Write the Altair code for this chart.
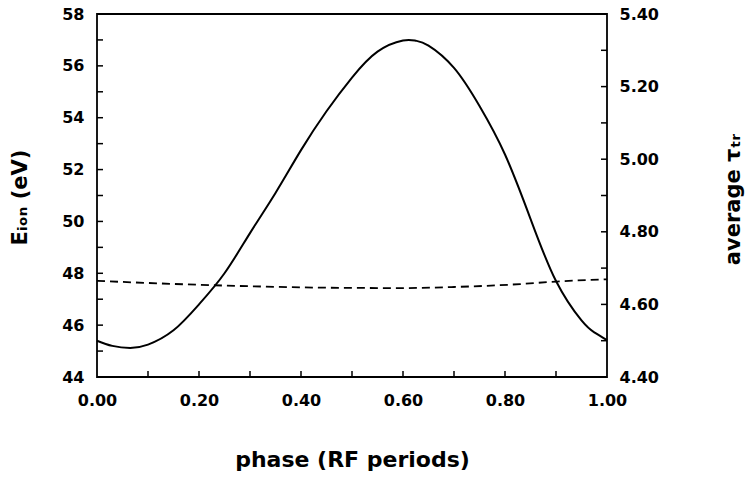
import altair as alt
import pandas as pd

# Solid curve: ion energy (left axis, eV)
phase_e = [0.0, 0.03, 0.065, 0.10, 0.15, 0.20, 0.25, 0.30, 0.35, 0.40, 0.45, 0.50,
           0.55, 0.60, 0.625, 0.65, 0.70, 0.75, 0.80, 0.85, 0.90, 0.95, 0.975, 1.0]
e_ion = [45.40, 45.20, 45.12, 45.25, 45.80, 46.80, 48.00, 49.55, 51.10, 52.75, 54.25, 55.55,
         56.55, 56.98, 56.97, 56.78, 55.92, 54.45, 52.58, 50.10, 47.70, 46.18, 45.72, 45.42]

# Dashed curve: average tau_tr (right axis)
phase_t = [0, 0.1, 0.2, 0.3, 0.45, 0.6, 0.7, 0.76, 0.83, 0.9, 1.0]
tau_tr = [4.665, 4.659, 4.654, 4.650, 4.646, 4.645, 4.648, 4.651, 4.656, 4.663, 4.669]

# Tick positions
x_ticks = [0.1, 0.2, 0.3, 0.4, 0.5, 0.6, 0.7, 0.8, 0.9]
x_labels = [0.0, 0.2, 0.4, 0.6, 0.8, 1.0]
e_ticks = [45, 46, 47, 48, 49, 50, 51, 52, 53, 54, 55, 56, 57]
e_labels = [44, 46, 48, 50, 52, 54, 56, 58]
t_ticks = [4.5, 4.6, 4.7, 4.8, 4.9, 5.0, 5.1, 5.2, 5.3]
t_labels = [4.4, 4.6, 4.8, 5.0, 5.2, 5.4]

FONT = "DejaVu Sans"

df_e = pd.DataFrame({"phase": phase_e, "E": e_ion})
df_t = pd.DataFrame({"phase": phase_t, "tau": tau_tr})
df_xt = pd.DataFrame({"x": x_ticks})
df_et = pd.DataFrame({"E": e_ticks})
df_tt = pd.DataFrame({"tau": t_ticks})

x_scale = alt.Scale(domain=[0, 1], nice=False, zero=False)
e_scale = alt.Scale(domain=[44, 58], nice=False, zero=False)
t_scale = alt.Scale(domain=[4.4, 5.4], nice=False, zero=False)

x_axis = alt.Axis(values=x_labels, format=".2f", grid=False, domain=False, ticks=False,
                  labelFont=FONT, labelFontSize=16, labelFontWeight="bold", labelColor="black",
                  labelPadding=15, labelFlush=False,
                  title="phase (RF periods)", titleFont=FONT, titleFontSize=22,
                  titleFontWeight="bold", titleColor="black", titleX=255, titleY=82,
                  titleBaseline="middle", titleAlign="center")

e_axis = alt.Axis(values=e_labels, format="d", grid=False, domain=False, ticks=False,
                  labelFont=FONT, labelFontSize=16, labelFontWeight="bold", labelColor="black",
                  labelPadding=13, labelFlush=False,
                  title="Eᵢₒₙ (eV)", titleFont=FONT, titleFontSize=21,
                  titleFontWeight="bold", titleColor="black", titleAngle=270,
                  titleX=-77, titleY=183, titleBaseline="middle", titleAlign="center")

t_axis = alt.Axis(values=t_labels, format=".2f", grid=False, domain=False, ticks=False,
                  orient="right",
                  labelFont=FONT, labelFontSize=16, labelFontWeight="bold", labelColor="black",
                  labelPadding=12, labelFlush=False,
                  title="average τₜᵣ", titleFont=FONT, titleFontSize=21,
                  titleFontWeight="bold", titleColor="black", titleAngle=270,
                  titleX=126, titleY=185, titleBaseline="middle", titleAlign="center")

solid = alt.Chart(df_e).mark_line(color="black", strokeWidth=2, interpolate="natural").encode(
    x=alt.X("phase:Q", scale=x_scale, axis=x_axis),
    y=alt.Y("E:Q", scale=e_scale, axis=e_axis),
)

left_ticks = alt.Chart(df_et).mark_rule(color="black", strokeWidth=1.5, x2Offset=6).encode(
    x=alt.datum(0, scale=x_scale),
    x2=alt.datum(0),
    y=alt.Y("E:Q", scale=e_scale),
)

bottom_ticks = alt.Chart(df_xt).mark_rule(color="black", strokeWidth=1.5, y2Offset=-6).encode(
    x=alt.X("x:Q", scale=x_scale),
    y=alt.datum(44, scale=e_scale),
    y2=alt.datum(44),
)

dashed = alt.Chart(df_t).mark_line(color="black", strokeWidth=1.8, strokeDash=[8, 5],
                                   interpolate="monotone").encode(
    x=alt.X("phase:Q", scale=x_scale),
    y=alt.Y("tau:Q", scale=t_scale, axis=t_axis),
)

right_ticks = alt.Chart(df_tt).mark_rule(color="black", strokeWidth=1.5, x2Offset=-6).encode(
    x=alt.datum(1, scale=x_scale),
    x2=alt.datum(1),
    y=alt.Y("tau:Q", scale=t_scale),
)

left_layer = alt.layer(solid, left_ticks, bottom_ticks)
right_layer = alt.layer(dashed, right_ticks)

chart = alt.layer(left_layer, right_layer).resolve_scale(y="independent").properties(
    width=510, height=363,
    autosize=alt.AutoSizeParams(type="none"),
    padding={"left": 97, "top": 14, "right": 141, "bottom": 100},
    background="white",
).configure_view(stroke="black", strokeWidth=1.8)

chart.save("out.html", embed_options={"renderer": "svg", "actions": False})
